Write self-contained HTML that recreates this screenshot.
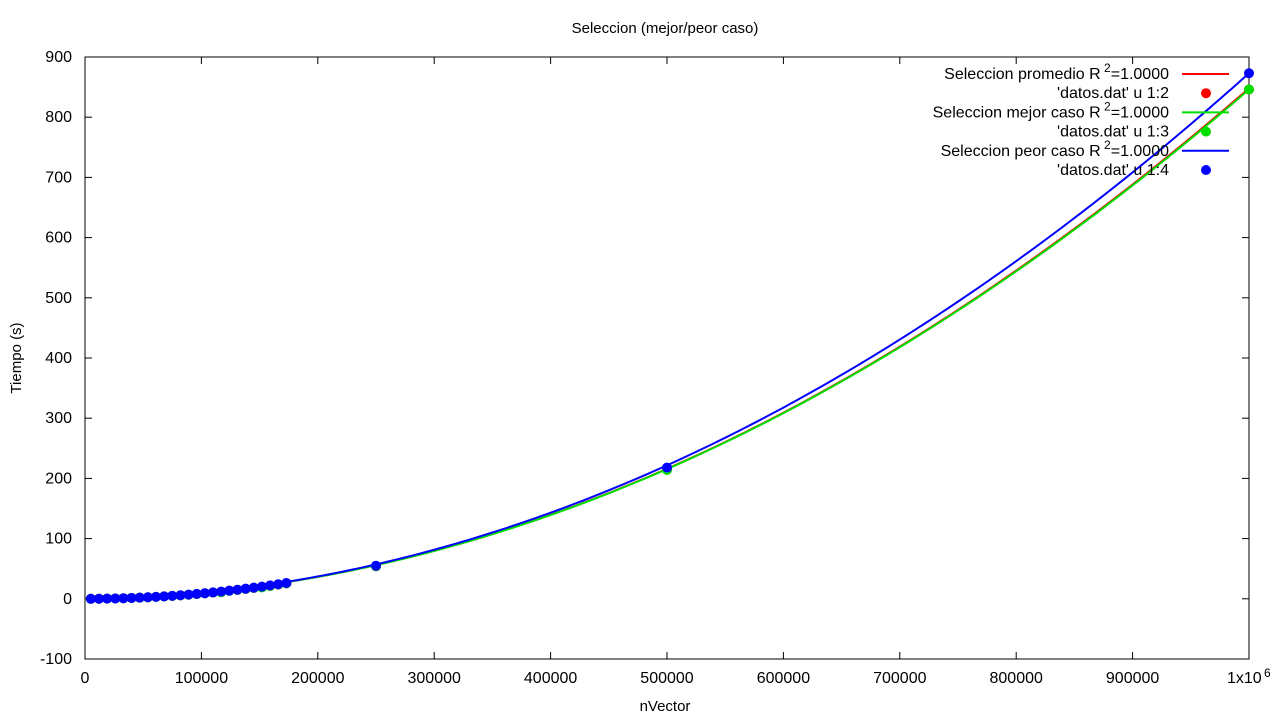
<!DOCTYPE html>
<html><head><meta charset="utf-8"><style>
body{margin:0;background:#fff}
svg text{font-family:"Liberation Sans",sans-serif;font-size:16px;fill:#000}
</style></head><body>
<svg id="c" width="1280" height="720">
<text x="665" y="33" text-anchor="middle" style="font-size:15px">Seleccion (mejor/peor caso)</text>
<text x="665" y="711" text-anchor="middle" style="font-size:15px">nVector</text>
<text transform="translate(21,358) rotate(-90)" text-anchor="middle" style="font-size:15px">Tiempo (s)</text>
<g id="axes"></g><g id="series"></g><g id="legend"></g>
</svg>
<script>
const xs=[5000,12000,19000,26000,33000,40000,47000,54000,61000,68000,75000,82000,89000,96000,103000,110000,117000,124000,131000,138000,145000,152000,159000,166000,173000,250000,500000,1000000];
const avgT=[0.02,0.12,0.31,0.58,0.94,1.38,1.9,2.51,3.2,3.98,4.84,5.78,6.81,7.93,9.12,10.4,11.8,13.6,14.8,16.4,18.1,19.9,21.7,23.7,25.7,54,215,846];
const bestT=[0.02,0.12,0.31,0.58,0.94,1.38,1.9,2.51,3.2,3.98,4.84,5.78,6.81,7.93,9.12,10.4,10.8,13.2,14.8,16.4,18.1,18.9,21.2,23.7,25.7,54,214,846];
const worstT=[0.02,0.12,0.31,0.6,0.96,1.4,1.94,2.55,3.25,4.05,4.92,5.9,6.95,8.1,9.3,10.6,12.0,13.5,15.1,16.8,18.5,20.3,22.2,24.2,26.3,55,218,873];
// quadratic fit coefficients [a, b, c] for t = a*n^2 + b*n + c (n in units of 1e6)
const avgFit=[832,16,0];
const bestFit=[830,16,0];
const worstFit=[859,14,0];
const xTicks=[0,100000,200000,300000,400000,500000,600000,700000,800000,900000];
const yTicks=[-100,0,100,200,300,400,500,600,700,800,900];
const L=85,R=1249,T=57,B=659;
const X=v=>L+(v/1e6)*(R-L);
const Y=v=>B-(v+100)/1000*(B-T);
const NS='http://www.w3.org/2000/svg';
function mk(tag,attrs,parent,txt){const e=document.createElementNS(NS,tag);for(const k in attrs)e.setAttribute(k,attrs[k]);if(txt!==undefined)e.textContent=txt;parent.appendChild(e);return e;}
const ax=document.getElementById('axes');
const frame=mk('rect',{x:L,y:T,width:R-L,height:B-T,fill:'none',stroke:'#000','stroke-width':1},ax);


xTicks.forEach(v=>{const x=X(v);
 mk('line',{x1:x,y1:B,x2:x,y2:B-7,stroke:'#000'},ax);mk('line',{x1:x,y1:T,x2:x,y2:T+7,stroke:'#000'},ax);
 const t=mk('text',{x:x,y:B+24,'text-anchor':'middle'},ax,String(v));
 
 });
const lt=mk('text',{x:R-22,y:B+24,'text-anchor':'start'},ax,'1x10');


mk('text',{x:R+15,y:B+18,style:'font-size:12px'},ax,'6');
mk('line',{x1:R,y1:B,x2:R,y2:B-7,stroke:'#000'},ax);
yTicks.forEach(v=>{const y=Y(v);
 mk('line',{x1:L,y1:y,x2:L+7,y2:y,stroke:'#000'},ax);mk('line',{x1:R,y1:y,x2:R-7,y2:y,stroke:'#000'},ax);
 const t=mk('text',{x:L-13,y:y+5,'text-anchor':'end'},ax,String(v));
 
 });
const sg=document.getElementById('series');
const series=[[avgT,avgFit,'#ff0000','avg'],[bestT,bestFit,'#00e000','best'],[worstT,worstFit,'#0000ff','worst']];
series.forEach(([d,f,c,n])=>{
 const pts=[];for(let i=0;i<=200;i++){const u=0.005+0.995*i/200;pts.push(X(u*1e6)+','+Y(f[0]*u*u+f[1]*u+f[2]));}
 const pl=mk('polyline',{points:pts.join(' '),fill:'none',stroke:c,'stroke-width':2},sg);
 
 });
series.forEach(([d,f,c,n])=>{xs.forEach((x,i)=>{
 const p=mk('circle',{cx:X(x),cy:Y(d[i]),r:5,fill:c},sg);
 
 });});
const lg=document.getElementById('legend');
const items=[['Seleccion promedio R','#ff0000',true],["'datos.dat' u 1:2",'#ff0000',false],['Seleccion mejor caso R','#00e000',true],["'datos.dat' u 1:3",'#00e000',false],['Seleccion peor caso R','#0000ff',true],["'datos.dat' u 1:4",'#0000ff',false]];
items.forEach(([t,c,line],i)=>{const y=74+i*19.2;
 const g=mk('g',{},lg);
 
 
 if(line){const tx=mk('text',{x:1169,y:y+5,'text-anchor':'end'},g,'');
  tx.innerHTML=t+'<tspan dy="-7" style="font-size:12px"> 2</tspan><tspan dy="7">=1.0000</tspan>';
  mk('line',{x1:1182,y1:y,x2:1229,y2:y,stroke:c,'stroke-width':2},g);}
 else{mk('text',{x:1169,y:y+5,'text-anchor':'end'},g,t);mk('circle',{cx:1206,cy:y,r:5,fill:c},g);}
});
</script>
</body></html>
